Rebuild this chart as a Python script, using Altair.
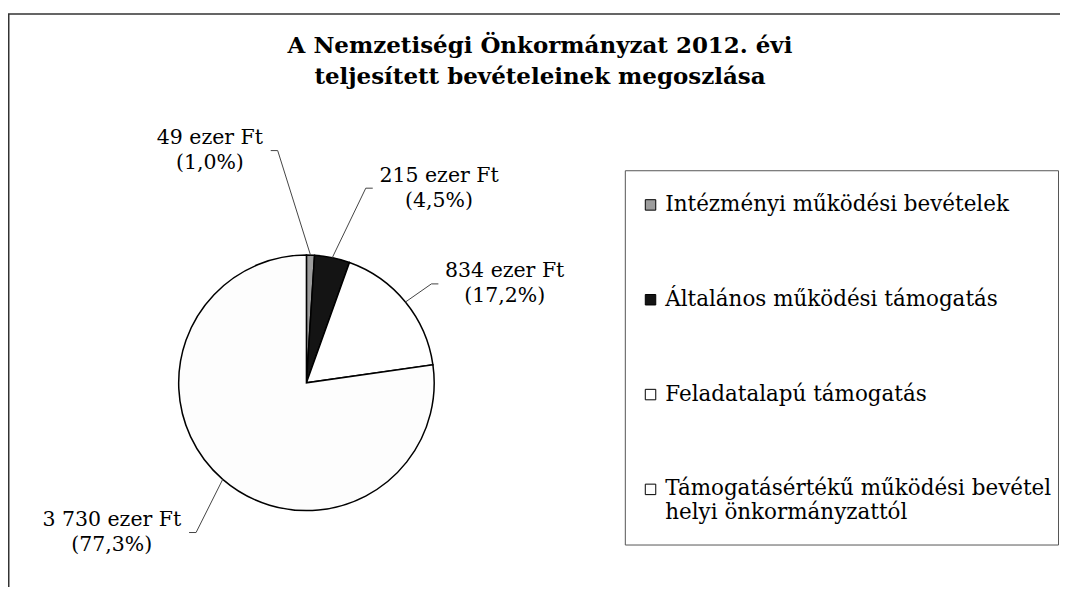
import altair as alt
import pandas as pd

# ---- data ----
categories = [
    "Intézményi működési bevételek",
    "Általános működési támogatás",
    "Feladatalapú támogatás",
    "Támogatásértékű működési bevétel helyi önkormányzattól",
]
values = [49, 215, 834, 3730]
value_labels = ["49", "215", "834", "3 730"]
percent_labels = ["1,0%", "4,5%", "17,2%", "77,3%"]

# ---- styling / layout ----
fills = ["#9c9c9c", "#141414", "#ffffff", "#fdfdfd"]
label_offset_deg = [-24.4, 22.6, 12.7, 11.5]
label_radius = [252, 236, 222, 246]
CX, CY, R = 299, 280, 128
FONT = "DejaVu Serif"
LABEL_SIZE = 20.5

df = pd.DataFrame({
    "category": categories,
    "value": values,
    "idx": list(range(len(values))),
    "text": [f"{v} ezer Ft\n({p})" for v, p in zip(value_labels, percent_labels)],
    "line1": [f"{v} ezer Ft" for v in value_labels],
    "nudge": label_offset_deg,
    "lr": label_radius,
})

long_label = categories[3]
label_expr = (
    f"datum.label == '{long_label}' ? "
    "['Támogatásértékű működési bevétel', 'helyi önkormányzattól'] : datum.label"
)

arcs = alt.Chart(df).mark_arc(radius=R, stroke="black", strokeWidth=1.5).encode(
    theta=alt.Theta("value:Q", stack=True),
    order=alt.Order("idx:Q"),
    x=alt.value(CX),
    y=alt.value(CY),
    color=alt.Color(
        "category:N",
        scale=alt.Scale(domain=categories, range=fills),
        legend=alt.Legend(
            title=None,
            orient="none",
            legendX=633,
            legendY=91,
            direction="vertical",
            symbolType="square",
            symbolSize=110,
            symbolStrokeColor="black",
            symbolStrokeWidth=1,
            labelFont=FONT,
            labelFontSize=21.5,
            labelColor="black",
            labelLimit=0,
            labelOffset=4,
            rowPadding=72,
            padding=0,
            labelExpr=label_expr,
        ),
    ),
)

base = (
    alt.Chart(df)
    .transform_window(cum="sum(value)", sort=[alt.SortField("idx")], frame=[None, 0])
    .transform_joinaggregate(total="sum(value)")
    .transform_calculate(
        mid="2*PI*(datum.cum - datum.value/2)/datum.total",
        la="datum.mid + datum.nudge*PI/180",
        lx=f"{CX} + datum.lr*sin(datum.la)",
        ly=f"{CY} - datum.lr*cos(datum.la)",
        ex=f"{CX} + {R}*sin(datum.mid)",
        ey=f"{CY} - {R}*cos(datum.mid)",
        side=f"datum.lx < {CX} ? 1 : -1",
        tx1=f"datum.lx + datum.side*(length(datum.line1)*{LABEL_SIZE * 0.268} + 6)",
        tx2="datum.tx1 + datum.side*7",
    )
)

xs = lambda f: alt.X(f, type="quantitative", scale=None, axis=None)
ys = lambda f: alt.Y(f, type="quantitative", scale=None, axis=None)

leaders = base.mark_rule(color="#444", strokeWidth=1).encode(
    x=xs("tx2"), y=ys("ly"), x2="ex", y2="ey"
)
ticks = base.mark_rule(color="#444", strokeWidth=1).encode(
    x=xs("tx1"), x2="tx2", y=ys("ly")
)
labels = base.mark_text(
    font=FONT, fontSize=LABEL_SIZE, color="black", align="center", baseline="middle",
    lineBreak="\n", lineHeight=25, dy=-12.5,
).encode(x=xs("lx"), y=ys("ly"), text="text:N")

frame_df = pd.DataFrame({"k": [0]})
outer = alt.Chart(frame_df).mark_rect(filled=False, stroke="#333", strokeWidth=1.5).encode(
    x=alt.value(0.75), y=alt.value(-89.5), x2=alt.value(1400), y2=alt.value(900)
)
legend_box = alt.Chart(frame_df).mark_rect(filled=False, stroke="#555", strokeWidth=1).encode(
    x=alt.value(618.5), y=alt.value(67.5), x2=alt.value(1052.5), y2=alt.value(442.5)
)

chart = (
    alt.layer(outer, legend_box, arcs, leaders, ticks, labels)
    .properties(
        width=1054,
        height=484,
        padding={"left": 0, "right": 0, "top": 95, "bottom": 0},
        autosize=alt.AutoSizeParams(type="none"),
        title=alt.Title(
            text=["A Nemzetiségi Önkormányzat 2012. évi", "teljesített bevételeinek megoszlása"],
            font=FONT,
            fontSize=23,
            fontWeight="bold",
            color="black",
            lineHeight=31,
            anchor="middle",
            frame="group",
            offset=-76,
            dx=6,
        ),
    )
    .configure_view(stroke=None)
)

chart.save("out.html", embed_options={"renderer": "svg", "actions": False})
